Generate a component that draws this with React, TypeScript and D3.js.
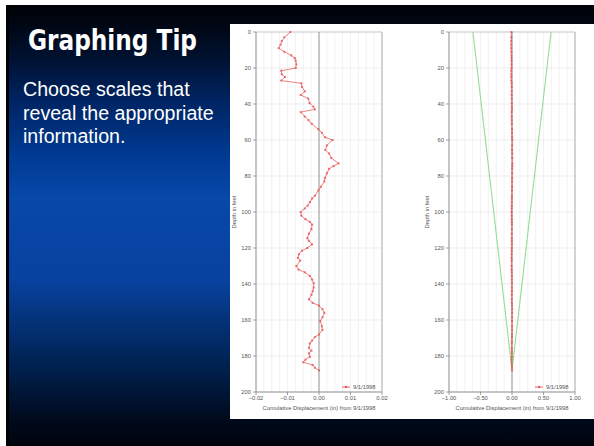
import React from "react";
import * as d3 from "d3";

const depths = [0,3,5,7,9,11,13,14.5,16,18,20,21.5,23.5,25,27,28.5,30.5,33,35,37,39.5,41.5,43,44.5,47,49,51,54,56,58.5,60,63,65.5,67.5,70,73,74.5,76,78.5,81,83,86,88,91,92.5,94.5,96.5,98,100,102,104,105.5,107,109.5,112,114.5,116,118,120,121.5,123.5,125.5,127,130,132,133.5,135.5,137.5,139.5,142,144,146,148.5,150.5,152,154,156,158.5,160.5,163.5,165.5,168,169.5,171.5,173,175.5,177,178.5,180.5,182,183.5,185,186.5,188];
const displacement = [-0.0091,-0.011,-0.0118,-0.0122,-0.0128,-0.011,-0.0088,-0.0077,-0.0074,-0.0072,-0.0074,-0.012,-0.0118,-0.0108,-0.012,-0.0056,-0.0054,-0.0045,-0.0058,-0.0034,-0.003,-0.0018,-0.0013,-0.0058,-0.0045,-0.0033,-0.0023,-0.0002,0.0009,0.0019,0.0043,0.0025,0.002,0.0032,0.0039,0.0062,0.0046,0.0032,0.0025,0.0019,0.0017,0.0006,-0.0002,-0.0013,-0.0022,-0.0029,-0.0036,-0.0045,-0.0058,-0.0056,-0.0043,-0.0029,-0.0022,-0.0024,-0.0032,-0.0037,-0.0032,-0.0022,-0.0037,-0.0054,-0.0064,-0.0067,-0.006,-0.0072,-0.0065,-0.0045,-0.0029,-0.0022,-0.0017,-0.0017,-0.002,-0.0024,-0.0032,-0.002,0,0.0011,0.0017,0.0011,0.0004,0.0009,0.0011,0,-0.0013,-0.0022,-0.0029,-0.0032,-0.0024,-0.0032,-0.0029,-0.0043,-0.005,-0.002,-0.0013,0];

const envelopeDepths = [0, 188];
const envelopeLeft = [-0.62, 0];
const envelopeRight = [0.62, 0];

const depthTicks = [0, 20, 40, 60, 80, 100, 120, 140, 160, 180, 200];
const leftXTicks = [-0.02, -0.01, 0, 0.01, 0.02];
const rightXTicks = [-1, -0.5, 0, 0.5, 1];
const legendLabel = "9/1/1998";
const xTitle = "Cumulative Displacement (in) from 9/1/1998";
const yTitle = "Depth in feet";

const FONT = "Arial, 'Liberation Sans', sans-serif";
const RED = "#e85454";

type PanelProps = {
  x0: number; x1: number; domain: [number, number]; ticks: number[]; fmt: (v: number) => string;
  showEnvelope: boolean; yLabelX: number;
};

function Panel({ x0, x1, domain, ticks, fmt, showEnvelope, yLabelX }: PanelProps) {
  const y = d3.scaleLinear().domain([0, 200]).range([32, 392]);
  const x = d3.scaleLinear().domain(domain).range([x0, x1]);
  const step = (domain[1] - domain[0]) / 16;
  const minor = d3.range(1, 16).map((i) => domain[0] + i * step);
  const line = d3.line<number>().x((_, i) => x(displacement[i])).y((d) => y(d));
  const envL = d3.line<number>().x((_, i) => x(envelopeLeft[i])).y((d) => y(d));
  const envR = d3.line<number>().x((_, i) => x(envelopeRight[i])).y((d) => y(d));
  return (
    <g>
      {minor.map((v, i) => (
        <line key={"vg" + i} x1={x(v)} x2={x(v)} y1={y(0)} y2={y(200)} stroke="#ececec" strokeWidth={0.7} />
      ))}
      {depthTicks.slice(1, -1).map((d) => (
        <line key={"hg" + d} x1={x0} x2={x1} y1={y(d)} y2={y(d)} stroke="#e6e6e6" strokeWidth={0.7} />
      ))}
      <line x1={x0} x2={x1} y1={y(0)} y2={y(0)} stroke="#c8c8c8" strokeWidth={1.2} />
      <line x1={x1} x2={x1} y1={y(0)} y2={y(200)} stroke="#c0c0c0" strokeWidth={1.4} />
      <line x1={x(0)} x2={x(0)} y1={y(0)} y2={y(200)} stroke="#8a8a8a" strokeWidth={0.9} />
      <line x1={x0} x2={x0} y1={y(0)} y2={y(200)} stroke="#8a8a8a" strokeWidth={1} />
      <line x1={x0} x2={x1} y1={y(200)} y2={y(200)} stroke="#8a8a8a" strokeWidth={1} />
      {depthTicks.map((d) => (
        <g key={"yt" + d}>
          <line x1={x0 - 3} x2={x0} y1={y(d)} y2={y(d)} stroke="#8a8a8a" strokeWidth={0.8} />
          <text x={x0 - 5} y={y(d) + 2} fontSize={5.8} fill="#555" textAnchor="end" fontFamily={FONT}>{d}</text>
        </g>
      ))}
      {ticks.map((t) => (
        <g key={"xt" + t}>
          <line x1={x(t)} x2={x(t)} y1={y(200)} y2={y(200) + 3} stroke="#8a8a8a" strokeWidth={0.8} />
          <text x={x(t)} y={y(200) + 8} fontSize={5.8} fill="#555" textAnchor="middle" fontFamily={FONT}>{fmt(t)}</text>
        </g>
      ))}
      <text x={(x0 + x1) / 2} y={410} fontSize={5.8} fill="#555" textAnchor="middle" fontFamily={FONT}>{xTitle}</text>
      <text transform={`translate(${yLabelX},${y(100)}) rotate(-90)`} fontSize={5.8} fill="#555" textAnchor="middle" fontFamily={FONT}>{yTitle}</text>
      {showEnvelope && (
        <g>
          <path d={envL(envelopeDepths) || ""} fill="none" stroke="#94dc94" strokeWidth={1.1} />
          <path d={envR(envelopeDepths) || ""} fill="none" stroke="#94dc94" strokeWidth={1.1} />
        </g>
      )}
      <path d={line(depths) || ""} fill="none" stroke={RED} strokeWidth={0.9} opacity={0.8} />
      {depths.map((d, i) => (
        <rect key={"m" + i} x={x(displacement[i]) - 1} y={y(d) - 1} width={2} height={2} fill={RED} opacity={0.8} />
      ))}
      <line x1={x1 - 40} x2={x1 - 32} y1={387} y2={387} stroke={RED} strokeWidth={0.9} />
      <rect x={x1 - 37} y={386} width={2} height={2} fill={RED} />
      <text x={x1 - 29} y={389} fontSize={5.8} fill="#555" fontFamily={FONT}>{legendLabel}</text>
    </g>
  );
}

export default function App() {
  return (
    <svg width={594} height={446} style={{ position: "absolute", left: 0, top: 0 }}>
      <defs>
        <linearGradient id="bg" x1="0" y1="0" x2="0" y2="1">
          <stop offset="0" stopColor="#000208" />
          <stop offset="0.034" stopColor="#000510" />
          <stop offset="0.125" stopColor="#001232" />
          <stop offset="0.215" stopColor="#002462" />
          <stop offset="0.35" stopColor="#003c96" />
          <stop offset="0.44" stopColor="#0848a8" />
          <stop offset="0.62" stopColor="#0842a0" />
          <stop offset="0.82" stopColor="#00214f" />
          <stop offset="0.94" stopColor="#000a1c" />
          <stop offset="1" stopColor="#00040c" />
        </linearGradient>
      </defs>
      <rect x={0} y={0} width={594} height={446} fill="#ffffff" />
      <rect x={6} y={5} width={588} height={441} fill="url(#bg)" />
      <rect x={6} y={5} width={3} height={441} fill="#000000" />
      <text x={28} y={50} fontSize={29} fontWeight="bold" fill="#ffffff" textLength={169} lengthAdjust="spacingAndGlyphs"
        fontFamily="'Liberation Sans Narrow', 'DejaVu Sans Condensed', Arial, sans-serif">Graphing Tip</text>
      <g fontFamily="Arial, 'Liberation Sans', sans-serif" fontSize={19.6} fill="#ffffff">
        <text x={23} y={96}>Choose scales that</text>
        <text x={23} y={119.5}>reveal the appropriate</text>
        <text x={23} y={143}>information.</text>
      </g>
      <rect x={230} y={24} width={364} height={395} fill="#ffffff" />
      <Panel x0={256} x1={382} domain={[-0.02, 0.02]} ticks={leftXTicks} fmt={d3.format(".2f")} showEnvelope={false} yLabelX={236} />
      <Panel x0={449} x1={575} domain={[-1, 1]} ticks={rightXTicks} fmt={d3.format(".2f")} showEnvelope={true} yLabelX={429} />
    </svg>
  );
}
